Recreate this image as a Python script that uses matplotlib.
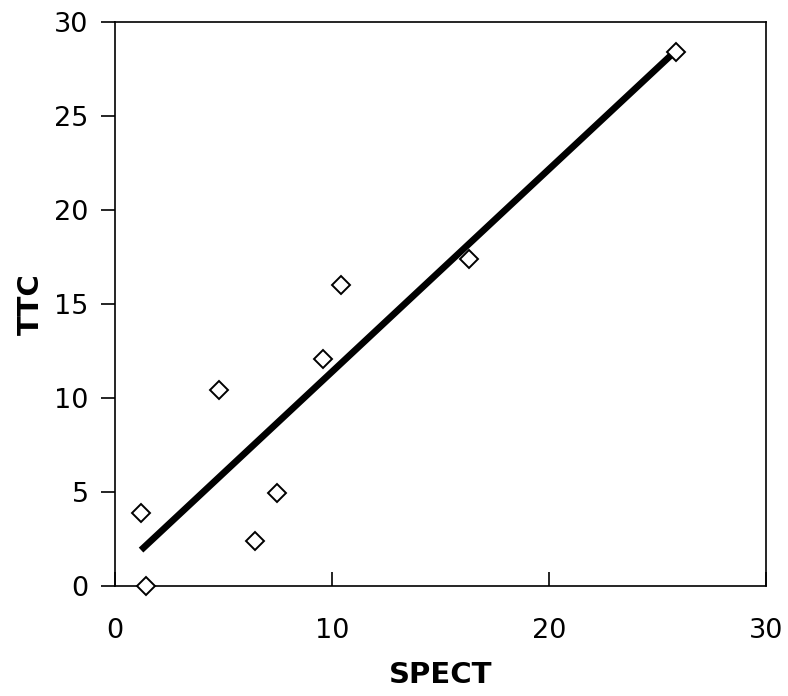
import matplotlib
matplotlib.use("Agg")
import matplotlib.pyplot as plt
import numpy as np

spect = [1.2, 1.45, 4.8, 6.45, 7.45, 9.6, 10.4, 16.3, 25.85]
ttc = [3.9, 0.0, 10.4, 2.4, 4.95, 12.1, 16.0, 17.4, 28.4]
ticks = [0, 5, 10, 15, 20, 25, 30]
xticks = [0, 10, 20, 30]

fig = plt.figure(figsize=(7.88, 6.96), dpi=100)
ax = fig.add_axes([115/788, 1-586/696, (766-115)/788, (586-22)/696])

x = np.array(spect)
y = np.array(ttc)
m, b = np.polyfit(x, y, 1)
xl = np.array([x.min(), x.max()])
ax.plot(xl, m*xl + b, color="black", lw=4.8, solid_capstyle="butt", zorder=2)
ax.plot(x, y, linestyle="none", marker="D", ms=9, mfc="white", mec="black", mew=1.4, zorder=3, clip_on=False)

ax.set_xlim(0, 30)
ax.set_ylim(0, 30)
ax.set_xticks(xticks)
ax.set_yticks(ticks)
ax.tick_params(axis="x", direction="in", length=10, width=1.2, labelsize=19.5, pad=23)
ax.tick_params(axis="y", direction="out", length=10, width=1.2, labelsize=19.5, pad=9)
for s in ax.spines.values():
    s.set_linewidth(1.2)
ax.set_xlabel("SPECT", fontsize=21, fontweight="bold", labelpad=12)
ax.set_ylabel("TTC", fontsize=21, fontweight="bold", labelpad=7)

fig.savefig("out.png", dpi=100)
